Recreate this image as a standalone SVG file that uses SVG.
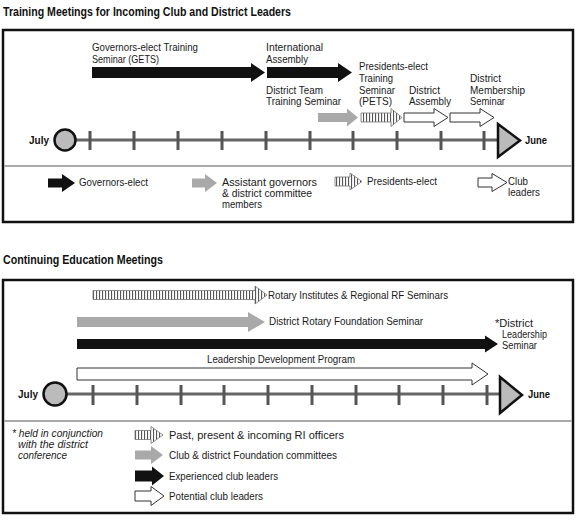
<svg xmlns="http://www.w3.org/2000/svg" width="588" height="524" viewBox="0 0 588 524">
<defs>
<pattern id="stripes" patternUnits="userSpaceOnUse" width="3" height="20">
<rect width="3" height="20" fill="#fff"/>
<rect x="0" width="1.1" height="20" fill="#555"/>
</pattern>
</defs>
<style>
text{font-family:"Liberation Sans",Arial,sans-serif;font-size:11px;fill:#1a1a1a}
.t{font-weight:bold;font-size:12px;fill:#111}
.b{font-weight:bold;font-size:11px;fill:#111}
.i{font-style:italic}
.box{fill:#fff;stroke:#111;stroke-width:2.5}
.div{stroke:#aaa;stroke-width:2}
.axis{stroke:#666;stroke-width:3}
.tick{stroke:#555;stroke-width:3}
.end{fill:#bbb;stroke:#111;stroke-width:2.5}
.blk{fill:#111}
.gry{fill:#a9a9a9}
.str{fill:url(#stripes);stroke:#777;stroke-width:0.8}
.wht{fill:#fff;stroke:#333;stroke-width:1}
</style>
<rect width="588" height="524" fill="#fff"/>

<g id="section1">
<text class="t" x="3" y="16" textLength="288" lengthAdjust="spacingAndGlyphs">Training Meetings for Incoming Club and District Leaders</text>
<rect class="box" x="3" y="30" width="570" height="192"/>
<line class="div" x1="4" y1="166" x2="572" y2="166"/>
</g>

<g id="section2">
<text class="t" x="3" y="264" textLength="160" lengthAdjust="spacingAndGlyphs">Continuing Education Meetings</text>
<rect class="box" x="3" y="280" width="570" height="233"/>
<line class="div" x1="4" y1="421" x2="572" y2="421"/>
</g>

<g id="timeline1">
<line class="axis" x1="70" y1="140" x2="500" y2="140"/>
<g class="tick">
<line x1="90" y1="131" x2="90" y2="150"/><line x1="134" y1="131" x2="134" y2="150"/><line x1="178" y1="131" x2="178" y2="150"/><line x1="222" y1="131" x2="222" y2="150"/><line x1="266" y1="131" x2="266" y2="150"/><line x1="310" y1="131" x2="310" y2="150"/><line x1="353" y1="131" x2="353" y2="150"/><line x1="397" y1="131" x2="397" y2="150"/><line x1="441" y1="131" x2="441" y2="150"/><line x1="484" y1="131" x2="484" y2="150"/>
</g>
<circle class="end" cx="65" cy="140" r="10.5"/>
<polygon class="end" points="498,124 520,140.5 498,157"/>
<text class="b" x="29" y="144" textLength="20" lengthAdjust="spacingAndGlyphs">July</text>
<text class="b" x="525" y="144" textLength="22" lengthAdjust="spacingAndGlyphs">June</text>
</g>

<g id="timeline2">
<line class="axis" x1="60" y1="394" x2="502" y2="394"/>
<g class="tick">
<line x1="93" y1="385" x2="93" y2="405"/><line x1="137" y1="385" x2="137" y2="405"/><line x1="181" y1="385" x2="181" y2="405"/><line x1="224" y1="385" x2="224" y2="405"/><line x1="268" y1="385" x2="268" y2="405"/><line x1="312" y1="385" x2="312" y2="405"/><line x1="356" y1="385" x2="356" y2="405"/><line x1="399" y1="385" x2="399" y2="405"/><line x1="443" y1="385" x2="443" y2="405"/><line x1="487" y1="385" x2="487" y2="405"/>
</g>
<circle class="end" cx="55" cy="394" r="11.5"/>
<polygon class="end" points="500,377 522,395 500,413"/>
<text class="b" x="18" y="398" textLength="20" lengthAdjust="spacingAndGlyphs">July</text>
<text class="b" x="528" y="398" textLength="22" lengthAdjust="spacingAndGlyphs">June</text>
</g>

<g id="connectors">
<polygon id="gets" class="blk" points="92,67 251,67 251,63 265,72.5 251,82 251,78 92,78"/>
<polygon id="assembly" class="blk" points="267,67 338,67 338,63 352,72.5 338,82 338,78 267,78"/>
<polygon id="dtts" class="gry" points="318,113 347,113 347,108.5 358,117.5 347,126.5 347,122 318,122"/>
<polygon id="pets" class="str" points="361,113 391,113 391,108.5 402,117.5 391,126.5 391,122 361,122"/>
<polygon id="da" class="wht" points="404,113 434,113 434,108.5 448,117.5 434,126.5 434,122 404,122"/>
<polygon id="dms" class="wht" points="450,113 480,113 480,108.5 494,117.5 480,126.5 480,122 450,122"/>
<polygon id="rirf" class="str" points="93,290.5 255,290.5 255,286 267,295 255,304 255,299.5 93,299.5"/>
<polygon id="drfs" class="gry" points="77,317 248,317 248,312 265,322 248,332 248,327 77,327"/>
<polygon id="dls" class="blk" points="77,339 485,339 485,335.5 498,344 485,352.5 485,349 77,349"/>
<polygon id="ldp" class="wht" points="77,368 472,368 472,363 488,374 472,385 472,380 77,380"/>
</g>

<g id="labels1">
<text x="92" y="51" textLength="106" lengthAdjust="spacingAndGlyphs">Governors-elect Training</text>
<text x="92" y="63" textLength="67" lengthAdjust="spacingAndGlyphs">Seminar (GETS)</text>
<text x="266" y="51" textLength="57" lengthAdjust="spacingAndGlyphs">International</text>
<text x="266" y="63" textLength="42" lengthAdjust="spacingAndGlyphs">Assembly</text>
<text x="359" y="70" textLength="69" lengthAdjust="spacingAndGlyphs">Presidents-elect</text>
<text x="359" y="82" textLength="34" lengthAdjust="spacingAndGlyphs">Training</text>
<text x="359" y="93.5" textLength="36" lengthAdjust="spacingAndGlyphs">Seminar</text>
<text x="359" y="105" textLength="33" lengthAdjust="spacingAndGlyphs">(PETS)</text>
<text x="266" y="93.5" textLength="57" lengthAdjust="spacingAndGlyphs">District Team</text>
<text x="266" y="105" textLength="75" lengthAdjust="spacingAndGlyphs">Training Seminar</text>
<text x="409" y="93.5" textLength="31" lengthAdjust="spacingAndGlyphs">District</text>
<text x="409" y="105" textLength="42" lengthAdjust="spacingAndGlyphs">Assembly</text>
<text x="470" y="82" textLength="31" lengthAdjust="spacingAndGlyphs">District</text>
<text x="470" y="93.5" textLength="55" lengthAdjust="spacingAndGlyphs">Membership</text>
<text x="470" y="105" textLength="35" lengthAdjust="spacingAndGlyphs">Seminar</text>
</g>

<g id="legend1">
<polygon class="blk" points="48,178.5 62,178.5 62,174 75,183 62,192 62,187.5 48,187.5"/>
<text x="79" y="186" textLength="69" lengthAdjust="spacingAndGlyphs">Governors-elect</text>
<polygon class="gry" points="192,178.5 205,178.5 205,174 217,183 205,192 205,187.5 192,187.5"/>
<text x="222" y="186" textLength="95" lengthAdjust="spacingAndGlyphs">Assistant governors</text>
<text x="222" y="197" textLength="90" lengthAdjust="spacingAndGlyphs">&amp; district committee</text>
<text x="222" y="208" textLength="40" lengthAdjust="spacingAndGlyphs">members</text>
<polygon class="str" points="335,177 350,177 350,173 362,181.5 350,190 350,186 335,186"/>
<text x="367" y="185" textLength="70" lengthAdjust="spacingAndGlyphs">Presidents-elect</text>
<polygon class="wht" points="478,178 492,178 492,173.5 507,182.5 492,191.5 492,187 478,187"/>
<text x="508" y="185" textLength="20" lengthAdjust="spacingAndGlyphs">Club</text>
<text x="508" y="196" textLength="32" lengthAdjust="spacingAndGlyphs">leaders</text>
</g>

<g id="labels2">
<text x="268" y="299" textLength="180" lengthAdjust="spacingAndGlyphs">Rotary Institutes &amp; Regional RF Seminars</text>
<text x="269" y="325" textLength="154" lengthAdjust="spacingAndGlyphs">District Rotary Foundation Seminar</text>
<text x="207" y="363" textLength="148" lengthAdjust="spacingAndGlyphs">Leadership Development Program</text>
<text x="495" y="327" textLength="38" lengthAdjust="spacingAndGlyphs">*District</text>
<text x="502" y="338" textLength="45" lengthAdjust="spacingAndGlyphs">Leadership</text>
<text x="502" y="349" textLength="35" lengthAdjust="spacingAndGlyphs">Seminar</text>
</g>

<g id="legend2">
<text class="i" x="12" y="437" textLength="91" lengthAdjust="spacingAndGlyphs">* held in conjunction</text>
<text class="i" x="18" y="448" textLength="70" lengthAdjust="spacingAndGlyphs">with the district</text>
<text class="i" x="18" y="459" textLength="49" lengthAdjust="spacingAndGlyphs">conference</text>
<polygon class="str" points="135,430.5 151,430.5 151,426.5 163,435 151,443.5 151,439.5 135,439.5"/>
<text x="169" y="439" textLength="175" lengthAdjust="spacingAndGlyphs">Past, present &amp; incoming RI officers</text>
<polygon class="gry" points="135,450.5 151,450.5 151,446 163,455 151,464 151,459.5 135,459.5"/>
<text x="169" y="459" textLength="168" lengthAdjust="spacingAndGlyphs">Club &amp; district Foundation committees</text>
<polygon class="blk" points="135,470.5 152,470.5 152,466.5 164,476 152,485.5 152,481.5 135,481.5"/>
<text x="169" y="480" textLength="109" lengthAdjust="spacingAndGlyphs">Experienced club leaders</text>
<polygon class="wht" points="135,491 151,491 151,486.5 164,496 151,505.5 151,501 135,501"/>
<text x="169" y="500" textLength="94" lengthAdjust="spacingAndGlyphs">Potential club leaders</text>
</g>
</svg>
